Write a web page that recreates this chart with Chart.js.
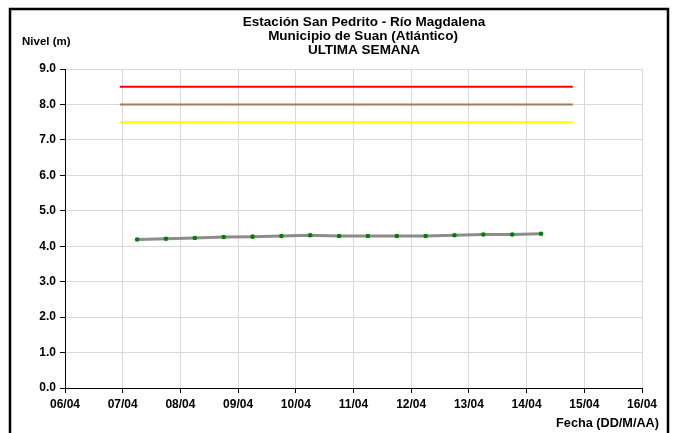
<!DOCTYPE html>
<html>
<head>
<meta charset="utf-8">
<script src="https://cdn.jsdelivr.net/npm/chart.js@4"></script>
<style>
  html, body { margin: 0; padding: 0; background: #fff; }
  #wrap { width: 678px; height: 433px; position: relative; }
</style>
</head>
<body>
<div id="wrap"><canvas id="grafico" width="678" height="433"></canvas></div>
<script>
// etiquetas del eje x (un día por marca)
const fechas = ['06/04', '07/04', '08/04', '09/04', '10/04', '11/04', '12/04', '13/04', '14/04', '15/04', '16/04'];
// lecturas cada 12 h (días desde 06/04)
const dias = [1.25, 1.75, 2.25, 2.75, 3.25, 3.75, 4.25, 4.75, 5.25, 5.75, 6.25, 6.75, 7.25, 7.75, 8.25];
const nivel = [4.19, 4.21, 4.23, 4.26, 4.27, 4.29, 4.31, 4.29, 4.29, 4.29, 4.29, 4.31, 4.33, 4.33, 4.35];
// niveles de alerta
const alertaRoja = 8.5;
const alertaNaranja = 8.0;
const alertaAmarilla = 7.5;
const tramoAlerta = [0.95, 8.8];
const yTicks = [0, 1, 2, 3, 4, 5, 6, 7, 8, 9];

const fuente = "'Liberation Sans', Arial, sans-serif";

const linea = (v) => tramoAlerta.map(x => ({ x: x, y: v }));

const textos = {
  id: 'textos',
  afterDraw(chart) {
    const ctx = chart.ctx;
    ctx.save();
    ctx.strokeStyle = '#000';
    ctx.lineWidth = 2.5;
    ctx.strokeRect(10, 9, 658, 440);
    ctx.fillStyle = '#000';
    ctx.textBaseline = 'middle';
    ctx.font = 'bold 13.5px ' + fuente;
    ctx.textAlign = 'center';
    ctx.fillText('Estación San Pedrito - Río Magdalena', 364, 22);
    ctx.fillText('Municipio de Suan (Atlántico)', 363, 36);
    ctx.fillText('ULTIMA SEMANA', 364, 50);
    ctx.font = 'bold 11.5px ' + fuente;
    ctx.textAlign = 'left';
    ctx.fillText('Nivel (m)', 22, 42);
    ctx.font = 'bold 12.7px ' + fuente;
    ctx.textAlign = 'right';
    ctx.fillText('Fecha (DD/M/AA)', 659, 423);
    ctx.restore();
  }
};

new Chart(document.getElementById('grafico'), {
  type: 'scatter',
  data: {
    datasets: [
      { data: linea(alertaRoja), showLine: true, borderColor: '#ff0000', borderWidth: 2, pointRadius: 0 },
      { data: linea(alertaNaranja), showLine: true, borderColor: '#a57c5b', borderWidth: 2, pointRadius: 0 },
      { data: linea(alertaAmarilla), showLine: true, borderColor: '#ffff00', borderWidth: 2, pointRadius: 0 },
      {
        data: dias.map((d, i) => ({ x: d, y: nivel[i] })),
        showLine: true,
        borderColor: '#8c8c8c',
        borderWidth: 3,
        pointRadius: 2.3,
        pointBorderWidth: 0,
        pointBackgroundColor: '#008000'
      }
    ]
  },
  options: {
    responsive: false,
    animation: false,
    layout: { padding: { left: 10, right: 36, top: 69, bottom: 0 } },
    plugins: { legend: { display: false }, tooltip: { enabled: false } },
    scales: {
      x: {
        type: 'linear',
        min: 0,
        max: fechas.length - 1,
        afterBuildTicks: (s) => { s.ticks = fechas.map((f, i) => ({ value: i })); },
        afterFit: (s) => { s.height = 45; },
        grid: { color: '#d9d9d9', tickColor: '#000', tickLength: 5 },
        border: { color: '#000', width: 1 },
        ticks: {
          color: '#000',
          font: { family: fuente, size: 12, weight: 'bold' },
          padding: 4,
          maxRotation: 0,
          callback: (v) => fechas[v]
        }
      },
      y: {
        min: 0,
        max: 9,
        afterBuildTicks: (s) => { s.ticks = yTicks.map(v => ({ value: v })); },
        afterFit: (s) => { s.width = 55; },
        grid: { color: '#d9d9d9', tickColor: '#000', tickLength: 5 },
        border: { color: '#000', width: 1 },
        ticks: {
          color: '#000',
          font: { family: fuente, size: 12, weight: 'bold' },
          padding: 4,
          callback: (v) => v.toFixed(1)
        }
      }
    }
  },
  plugins: [textos]
});
</script>
</body>
</html>
